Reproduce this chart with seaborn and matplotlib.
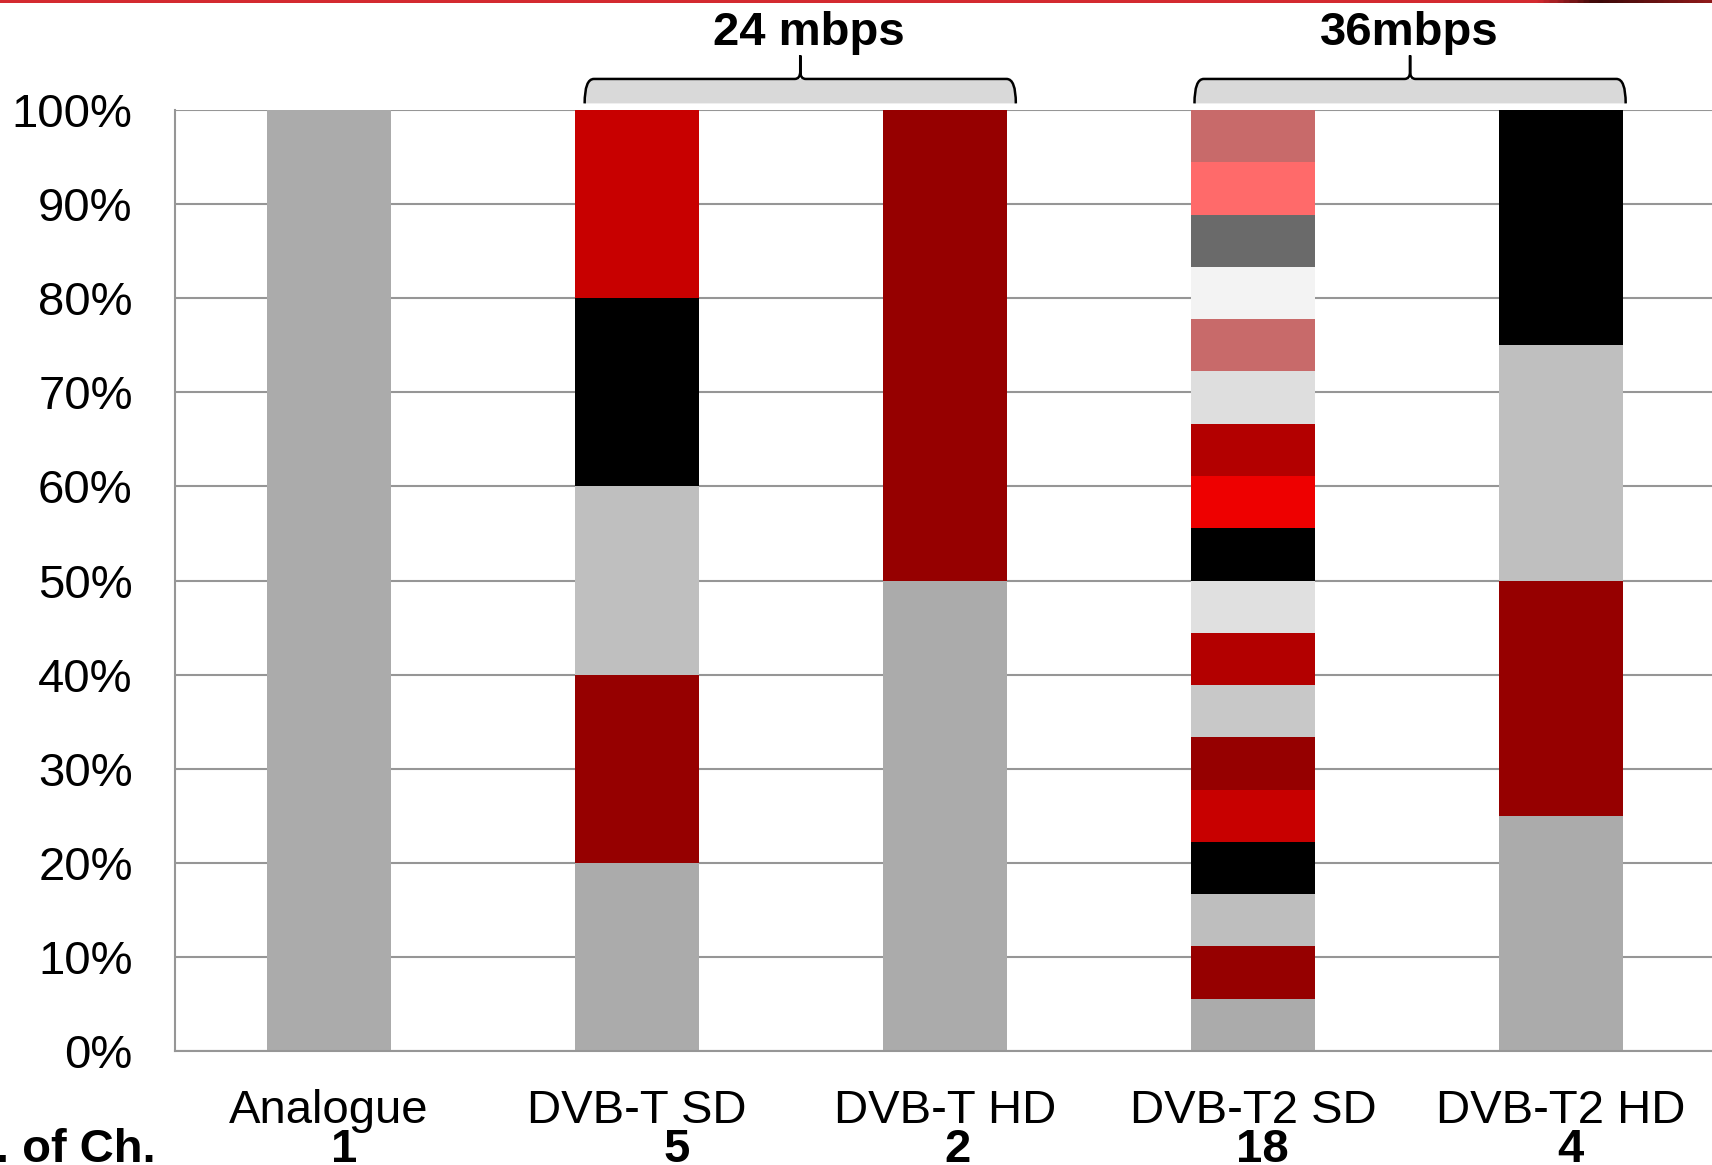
import numpy as np
import pandas as pd
import matplotlib
matplotlib.use('Agg')
import matplotlib.pyplot as plt
from matplotlib.path import Path
from matplotlib.patches import PathPatch
from matplotlib.colors import LinearSegmentedColormap
from matplotlib.transforms import blended_transform_factory
import seaborn as sns

categories = ['Analogue', 'DVB-T SD', 'DVB-T HD', 'DVB-T2 SD', 'DVB-T2 HD']
channels = [1, 5, 2, 18, 4]
# one colour per channel, bottom to top
seg_colors = [
    ['#ABABAB'],
    ['#ABABAB', '#960000', '#BFBFBF', '#000000', '#C80000'],
    ['#ABABAB', '#960000'],
    ['#ABABAB', '#960000', '#BEBEBE', '#000000', '#C80000', '#960000',
     '#C8C8C8', '#B30000', '#E0E0E0', '#000000', '#EE0000', '#B30000',
     '#DEDEDE', '#C86A6A', '#F3F3F3', '#6A6A6A', '#FF6A6A', '#C86A6A'],
    ['#ABABAB', '#960000', '#BFBFBF', '#000000'],
]
# bitrate groups: label, first and last category index
groups = [('24 mbps', 1, 2), ('36mbps', 3, 4)]

bar_w = 0.4
grid_c = '#969696'

sns.set_style('white')
plt.rcParams['font.family'] = ['Liberation Sans', 'DejaVu Sans']
plt.rcParams['text.color'] = 'black'

# stacked bars: draw cumulative tops, tallest first
rows = []
for cat, n, cols in zip(categories, channels, seg_colors):
    share = 100 / n
    for k, c in enumerate(cols):
        rows.append({'cat': cat, 'seg': f'{cat}#{k}', 'top': share * (k + 1), 'color': c})
df = pd.DataFrame(rows).sort_values('top', ascending=False).reset_index(drop=True)

fig = plt.figure(figsize=(17.12, 11.65), dpi=100)
ax = fig.add_axes([175 / 1712, 1 - 1051 / 1165, 1540 / 1712, 941 / 1165])

sns.barplot(data=df, x='cat', y='top', hue='seg', hue_order=list(df['seg']),
            palette=dict(zip(df['seg'], df['color'])), order=categories,
            dodge=False, width=bar_w, saturation=1, linewidth=0,
            errorbar=None, legend=False, ax=ax)

ax.set_xlim(-0.5, len(categories) - 0.5)
ax.set_ylim(0, 100)
ax.set_xlabel('')
ax.set_ylabel('')
ax.set_yticks(range(0, 101, 10))
ax.set_yticklabels([f'{v}%' for v in range(0, 101, 10)])
ax.yaxis.grid(True, color=grid_c, lw=1.5)
ax.set_axisbelow(True)
ax.tick_params(axis='y', direction='out', length=9.5, width=1.4, color=grid_c,
               pad=21, labelsize=34, labelcolor='black')
ax.set_xticks(range(len(categories)))
ax.set_xticklabels([''] * len(categories))
ax.set_xticks(np.arange(-0.5, len(categories), 1), minor=True)
ax.tick_params(axis='x', which='major', length=0)
ax.tick_params(axis='x', which='minor', direction='out', length=10, width=1.4, color=grid_c)
for s in ['top', 'right']:
    ax.spines[s].set_visible(False)
for s in ['left', 'bottom']:
    ax.spines[s].set_color(grid_c)
    ax.spines[s].set_linewidth(1.5)

# category names and channel counts under the axis
tr = blended_transform_factory(ax.transData, ax.transAxes)
count_dx = [0.05, 0.13, 0.04, 0.03, 0.03]
for i, (cat, n) in enumerate(zip(categories, channels)):
    ax.text(i, -0.0765, cat, transform=tr, ha='center', va='baseline', fontsize=34)
    ax.text(i + count_dx[i], -0.118, str(n), transform=tr, ha='center', va='baseline',
            fontsize=34, fontweight='bold')
ax.text(-0.562, -0.118, 'No. of Ch.', transform=tr, ha='right', va='baseline',
        fontsize=34, fontweight='bold')


def brace(ax, x0, x1, y_bot=100.7, y_top=103.3, y_peak=105.8, dx=0.03):
    xc = (x0 + x1) / 2
    fill = Path([(x0, y_bot), (x0, y_top), (x0 + dx, y_top),
                 (x1 - dx, y_top), (x1, y_top), (x1, y_bot), (x0, y_bot)],
                [Path.MOVETO, Path.CURVE3, Path.CURVE3, Path.LINETO,
                 Path.CURVE3, Path.CURVE3, Path.CLOSEPOLY])
    ax.add_patch(PathPatch(fill, facecolor='#D9D9D9', edgecolor='none', clip_on=False))
    line = Path([(x0, y_bot), (x0, y_top), (x0 + dx, y_top),
                 (xc - dx * 0.6, y_top), (xc, y_top), (xc, y_top + 0.8),
                 (xc, y_peak), (xc, y_top + 0.8),
                 (xc, y_top), (xc + dx * 0.6, y_top),
                 (x1 - dx, y_top), (x1, y_top), (x1, y_bot)],
                [Path.MOVETO, Path.CURVE3, Path.CURVE3,
                 Path.LINETO, Path.CURVE3, Path.CURVE3,
                 Path.LINETO, Path.LINETO,
                 Path.CURVE3, Path.CURVE3,
                 Path.LINETO, Path.CURVE3, Path.CURVE3])
    ax.add_patch(PathPatch(line, facecolor='none', edgecolor='black', lw=1.8,
                           clip_on=False, capstyle='butt'))


brace_dx = [0.03, 0.01]
label_dx = [0.057, 0.007]
for (label, a, b), bdx, ldx in zip(groups, brace_dx, label_dx):
    x0, x1 = a - bar_w / 2 + bdx, b + bar_w / 2 + bdx
    brace(ax, x0, x1)
    ax.text((a + b) / 2 + ldx, 106.9, label, ha='center', va='baseline',
            fontsize=34, fontweight='bold', clip_on=False)

# red strip along the top edge
strip = fig.add_axes([0, 1 - 3 / 1165, 1, 3 / 1165])
cmap = LinearSegmentedColormap.from_list(
    'strip', [(0, '#D42A30'), (0.9, '#D42A30'), (0.935, '#3A0808'), (1, '#8E1A1A')])
strip.imshow(np.linspace(0, 1, 600)[None, :], aspect='auto', cmap=cmap)
strip.axis('off')

fig.savefig('out.png', dpi=100)
